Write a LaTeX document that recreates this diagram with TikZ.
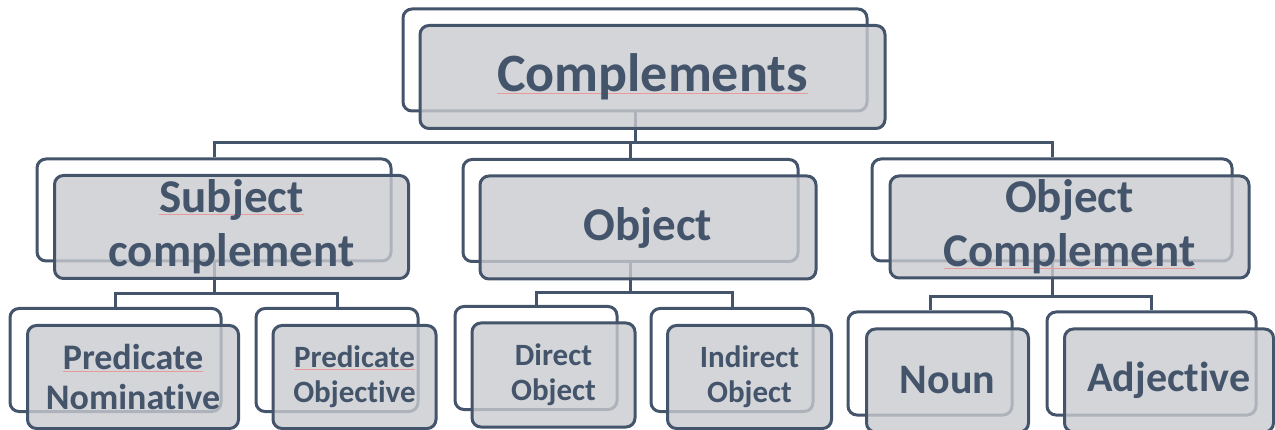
\documentclass[tikz,border=0pt]{standalone}
\usepackage{fontspec}
\setmainfont{Carlito}
\usetikzlibrary{positioning}

\definecolor{slate}{HTML}{44546A}
\definecolor{boxgray}{HTML}{C9CBD0}
\definecolor{spellred}{HTML}{E89A9A}

% thin red mark under a word
\newcommand{\spellmark}[1]{\setbox0\hbox{#1}\rlap{\color{spellred}\rule[-2pt]{\wd0}{0.8pt}}#1}
% keeps t and i apart
\newcommand{\ti}{t\kern0pt i}

\tikzset{
    backbox/.style={draw=slate, line width=3pt, rounded corners=9pt, fill=white, inner sep=0pt},
    frontbox/.style={draw=slate, line width=3pt, rounded corners=9pt, fill=boxgray, fill opacity=0.8,
        text opacity=1, text=slate, align=center, inner sep=0pt},
    link/.style={draw=slate, line width=3pt},
    shifted/.style={shift={(17.5,17)}}
}

\begin{document}
\begin{tikzpicture}[x=1pt, y=-1pt]
    \useasboundingbox (0,0) rectangle (1275,430);

    % Back boxes
    \node[backbox, minimum width=464, minimum height=102] (top) at (635, 60) {};
    \node[backbox, minimum width=354, minimum height=102] (subj) at (214, 210) {};
    \node[backbox, minimum width=335, minimum height=102] (obj) at (630.5, 210.5) {};
    \node[backbox, minimum width=360, minimum height=102] (objc) at (1052, 210) {};
    \node[backbox, minimum width=211, minimum height=103] (nom) at (115.5, 360) {};
    \node[backbox, minimum width=162, minimum height=103] (pobj) at (337, 360) {};
    \node[backbox, minimum width=162, minimum height=103] (dobj) at (536, 358) {};
    \node[backbox, minimum width=162, minimum height=103] (iobj) at (732, 360) {};
    \node[backbox, minimum width=164, minimum height=103] (noun) at (930, 363.5) {};
    \node[backbox, minimum width=209, minimum height=103] (adj) at (1151.5, 363.5) {};

    % Bus lines
    \coordinate (busA) at (0, 143);
    \coordinate (busS) at (0, 294);
    \coordinate (busO) at (0, 293);
    \coordinate (busC) at (0, 297);

    % Connectors
    \draw[link] (top.south) -- (top.south |- busA);
    \draw[link] (subj.north) |- (busA -| objc.north) -- (objc.north);
    \draw[link] (obj.north) -- (obj.north |- busA);

    \draw[link] (subj.south) -- (subj.south |- busS);
    \draw[link] (nom.north) |- (busS -| pobj.north) -- (pobj.north);

    \draw[link] (obj.south) -- (obj.south |- busO);
    \draw[link] (dobj.north) |- (busO -| iobj.north) -- (iobj.north);

    \draw[link] (objc.south) -- (objc.south |- busC);
    \draw[link] (noun.north) |- (busC -| adj.north) -- (adj.north);

    % Front boxes
    \node[frontbox, minimum width=465, minimum height=103, font=\fontsize{54}{60}\selectfont\bfseries]
        (topF) at ([shifted]top.center) {\spellmark{Complements}};
    \node[frontbox, minimum width=354, minimum height=103, font=\fontsize{47}{54}\selectfont\bfseries]
        (subjF) at ([shifted]subj.center) {\spellmark{Subject}\\complement};
    \node[frontbox, minimum width=336, minimum height=103, font=\fontsize{47}{54}\selectfont\bfseries]
        (objF) at ([shifted]obj.center) {Object};
    \node[frontbox, minimum width=359, minimum height=102, font=\fontsize{47}{54}\selectfont\bfseries]
        (objcF) at ([shifted]objc.center) {Object\\\spellmark{Complement}};
    \node[frontbox, minimum width=211, minimum height=103, font=\fontsize{36}{40}\selectfont\bfseries]
        (nomF) at ([shifted]nom.center) {\spellmark{Predicate}\\Nomina\ti ve};
    \node[frontbox, minimum width=163, minimum height=103, font=\fontsize{31}{35}\selectfont\bfseries]
        (pobjF) at ([shifted]pobj.center) {\spellmark{Predicate}\\Objec\ti ve};
    \node[frontbox, minimum width=163, minimum height=104, font=\fontsize{31}{35}\selectfont\bfseries]
        (dobjF) at ([shifted]dobj.center) {Direct\\Object};
    \node[frontbox, minimum width=164, minimum height=103, font=\fontsize{31}{35}\selectfont\bfseries]
        (iobjF) at ([shifted]iobj.center) {Indirect\\Object};
    \node[frontbox, minimum width=162, minimum height=103, font=\fontsize{42}{48}\selectfont\bfseries]
        (nounF) at ([shifted]noun.center) {Noun};
    \node[frontbox, minimum width=209, minimum height=103, font=\fontsize{42}{48}\selectfont\bfseries]
        (adjF) at ([shifted]adj.center) {Adjec\ti ve};
\end{tikzpicture}
\end{document}
